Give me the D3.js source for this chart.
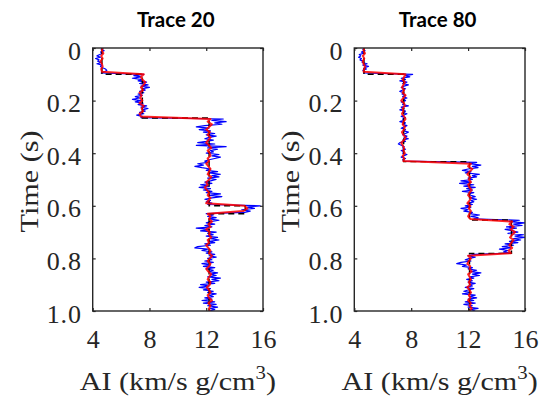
<!DOCTYPE html>
<html>
<head>
<meta charset="utf-8">
<script src="https://cdn.jsdelivr.net/npm/d3@7"></script>
<style>
  body { margin: 0; background: #fff; }
  svg { display: block; }
</style>
</head>
<body>
<div id="chart"></div>
<script>
// sampling of the logs (s)
const blueDt = 0.005;
const redDt = 0.01;

const timeTicks = [0, 0.2, 0.4, 0.6, 0.8, 1.0];
const timeTickLabels = ['0', '0.2', '0.4', '0.6', '0.8', '1.0'];
const aiTicks = [4, 8, 12, 16];
const titles = ['Trace 20', 'Trace 80'];

// Trace 20 - true AI log (blue), t = 0 .. 1.0 every 0.005 s
const trace20Blue = [
  4.75, 4.6, 4.8, 4.55, 4.7, 4.5, 4.3, 4.55, 4.2, 4.45, 4.35, 4.6, 4.3, 4.65, 4.55, 4.7, 4.9, 5.0, 4.85, 4.6,
  7.6, 6.9, 7.4, 6.8, 7.5, 7.2, 7.8, 7.3, 7.9, 7.4, 8.0, 7.5, 7.7, 7.3, 7.6, 7.2, 7.5, 7.0, 7.3, 6.8,
  7.4, 7.0, 7.55, 7.2, 7.8, 7.4, 7.9, 7.5, 7.7, 7.3, 7.6, 7.1, 7.5, 7.4,
  13.2, 12.4, 13.4, 12.6, 13.1, 11.9, 11.3, 12.2, 11.5, 12.3, 11.8, 12.6, 12.0, 12.7, 12.2, 11.9, 12.5, 12.0, 11.4, 12.6,
  11.3, 13.4, 12.1, 12.8, 12.3, 12.5, 12.0, 12.9, 12.4, 13.0, 12.6, 12.2, 11.9, 12.1, 11.4, 11.8, 11.2, 11.7, 12.3, 12.0,
  12.8, 12.2, 13.0, 12.4, 12.9, 12.1, 12.7, 12.3, 11.9, 12.4, 11.6, 12.2, 11.5, 12.3, 11.8, 12.4, 12.0, 13.0, 12.2, 13.1,
  12.4, 11.9, 12.3, 12.0, 12.4, 12.1,
  15.8, 14.9, 15.4, 14.5, 15.1, 14.7,
  12.0, 12.5, 12.1, 12.7, 12.2, 12.9, 12.3, 12.0, 12.6, 11.9, 12.4, 11.3, 12.2, 11.6, 12.7, 12.1, 12.5, 12.0, 12.8, 12.3,
  12.9, 12.2, 12.6, 11.9, 12.3, 11.4, 11.2, 12.1, 11.7, 12.4, 12.0, 12.6, 12.2, 12.7, 12.1, 12.4, 11.9, 12.5, 11.7, 12.3,
  11.8, 12.6, 12.0, 12.5, 12.2, 12.8, 12.3, 12.7, 12.1, 13.0, 12.4, 12.9, 12.0, 12.6, 11.6, 12.2, 11.5, 12.3, 11.8, 12.5,
  12.1, 12.7, 12.2, 12.5, 11.9, 12.4, 11.7, 12.6, 11.8, 12.7, 12.1, 12.8, 12.3, 12.6, 12.2
];

// Trace 20 - inverted AI (red), every 0.01 s
const trace20Red = [
  4.7, 4.65, 4.75, 4.6, 4.7, 4.55, 4.65, 4.7, 4.6, 4.65,
  7.6, 7.4, 7.5, 7.7, 7.6, 7.4, 7.55, 7.3, 7.45, 7.35, 7.5, 7.3, 7.6, 7.45, 7.55, 7.3, 7.4,
  12.3, 12.1, 12.4, 12.2, 12.0, 12.25, 12.1, 12.3, 12.15, 12.0, 12.2, 12.35, 12.1, 12.25, 12.3, 12.1, 12.2,
  12.0, 12.15, 12.3, 12.2, 12.1, 12.35, 12.2, 12.0, 12.1, 11.9, 12.05, 12.2, 12.1, 12.3, 12.15, 12.0,
  14.7, 14.9, 14.6,
  12.1, 12.3, 12.2, 12.4, 12.15, 12.3, 12.0, 12.25, 12.2, 12.35, 12.1, 12.2, 12.0, 12.15, 12.3, 12.2, 12.4, 12.25, 12.1,
  12.3, 12.2, 12.0, 12.15, 12.35, 12.2, 12.1, 12.3, 12.25, 12.05, 12.2, 12.3, 12.1, 12.2, 12.4, 12.15, 12.3, 12.2, 12.25
];

// Trace 20 - blocky model (black dashed): layer tops (s) and AI
const trace20ModelTops = [0, 0.1, 0.266, 0.6, 0.63];
const trace20ModelAI = [4.65, 7.5, 12.2, 14.75, 12.2];

// Trace 80 - true AI log (blue), every 0.005 s
const trace80Blue = [
  4.7, 4.6, 4.75, 4.5, 4.65, 4.35, 4.45, 4.3, 4.5, 4.4, 4.6, 4.55, 4.9, 4.6, 5.0, 4.7, 4.85, 4.6, 4.75, 4.65,
  8.1, 7.6, 7.9, 7.3, 7.6, 7.2, 7.7, 7.4, 7.8, 7.5, 7.3, 7.6, 7.4, 7.2, 7.5, 7.35, 7.6, 7.4, 7.7, 7.45,
  7.6, 7.3, 7.5, 7.4, 7.8, 7.3, 7.5, 7.2, 7.6, 7.4, 7.7, 7.5, 7.3, 7.6, 7.4, 7.5, 7.2, 7.6, 7.4, 7.7,
  7.5, 7.3, 7.6, 7.5, 7.8, 7.6, 7.4, 7.7, 7.5, 7.8, 7.4, 7.6, 7.2, 7.1, 7.3, 7.5, 7.4, 7.6, 7.3, 7.5,
  7.4, 7.7, 7.5, 7.3, 7.6, 7.4, 7.5,
  12.6, 12.1, 12.9, 12.3, 12.7, 12.0, 11.6, 12.2, 11.8, 12.8, 12.3, 12.6, 12.0, 12.3, 11.5, 12.2, 11.4, 12.4, 11.7, 12.5,
  11.9, 12.3, 11.6, 12.4, 12.0, 12.2, 12.5, 12.1, 12.6, 12.2, 12.4, 12.0, 12.3, 11.8, 12.2, 11.5, 12.0, 11.7, 12.3, 12.1,
  12.8, 12.2, 12.7, 12.4,
  15.6, 14.9, 16.0, 15.2, 15.8, 14.7, 15.4, 14.6, 15.1, 15.5, 14.8, 15.9, 15.3, 16.0, 15.2, 15.7, 14.9, 15.5, 14.6, 15.2,
  14.4, 15.0, 14.2, 14.8, 14.5, 15.0,
  12.4, 12.0, 12.5, 12.1, 11.8, 12.2, 11.5, 11.2, 11.9, 11.6, 12.3, 12.0, 12.6, 12.2, 12.9, 12.3, 12.8, 12.1, 12.4, 11.9,
  12.3, 12.0, 12.5, 12.1, 12.3, 11.8, 12.4, 12.0, 11.7, 12.2, 11.6, 12.5, 12.1, 12.6, 12.0, 12.4, 11.8, 12.5, 11.7, 12.3,
  12.0, 12.7, 12.2, 12.5
];

// Trace 80 - inverted AI (red), every 0.01 s
const trace80Red = [
  4.7, 4.65, 4.75, 4.6, 4.7, 4.6, 4.65, 4.75, 4.7, 4.65,
  7.6, 7.5, 7.4, 7.55, 7.45, 7.35, 7.5, 7.4, 7.6, 7.45, 7.3, 7.5, 7.55, 7.4, 7.45, 7.35, 7.5,
  7.6, 7.45, 7.4, 7.55, 7.5, 7.35, 7.45, 7.6, 7.5, 7.3, 7.4, 7.5, 7.45, 7.55, 7.4, 7.5, 7.45,
  12.2, 12.0, 12.3, 12.1, 11.95, 12.15, 12.05, 12.2, 12.0, 12.1, 12.25, 12.1, 12.0, 12.2, 12.1, 11.95,
  12.15, 12.05, 12.2, 12.1, 12.0, 12.15,
  15.1, 14.9, 15.2, 15.0, 15.3, 15.1, 14.95, 15.2, 15.05, 14.9, 15.1, 14.85, 15.0,
  12.0, 12.2, 12.05, 11.95, 12.15, 12.1, 12.25, 12.0, 12.1, 12.2, 12.05, 12.15, 11.95, 12.1, 12.2, 12.05,
  12.15, 12.0, 12.2, 12.1, 12.25, 12.1
];

const trace80ModelTops = [0, 0.1, 0.432, 0.654, 0.781];
const trace80ModelAI = [4.68, 7.47, 12.1, 15.05, 12.1];

const width = 541;
const height = 398;
const plotTop = 48;
const plotBottom = 311;

const panels = [
  { title: titles[0], left: 92.7, right: 263, blue: trace20Blue, red: trace20Red, tops: trace20ModelTops, ai: trace20ModelAI },
  { title: titles[1], left: 354.3, right: 525, blue: trace80Blue, red: trace80Red, tops: trace80ModelTops, ai: trace80ModelAI },
];

const svg = d3
  .select('#chart')
  .append('svg')
  .attr('width', width)
  .attr('height', height);

const serif = '"Liberation Serif", "Times New Roman", serif';

function toPoints(values, dt) {
  return values.map((v, i) => [v, i * dt]);
}

function modelPoints(tops, ai) {
  const pts = [];
  tops.forEach((t, i) => {
    const bottom = i < tops.length - 1 ? tops[i + 1] : 1.0;
    pts.push([ai[i], t]);
    pts.push([ai[i], bottom]);
  });
  return pts;
}

panels.forEach((p, k) => {
  const x = d3.scaleLinear().domain([4, 16]).range([p.left, p.right]);
  const y = d3.scaleLinear().domain([0, 1]).range([plotTop, plotBottom]);
  const line = d3
    .line()
    .x((d) => x(d[0]))
    .y((d) => y(d[1]));

  const g = svg.append('g');

  const clipId = 'clip' + k;
  g.append('clipPath')
    .attr('id', clipId)
    .append('rect')
    .attr('x', p.left)
    .attr('y', plotTop)
    .attr('width', p.right - p.left)
    .attr('height', plotBottom - plotTop);

  const lines = g.append('g').attr('clip-path', `url(#${clipId})`);

  lines
    .append('path')
    .attr('d', line(toPoints(p.blue, blueDt)))
    .attr('fill', 'none')
    .attr('stroke', '#0000ff')
    .attr('stroke-width', 1.2)
    .attr('stroke-linejoin', 'round');

  lines
    .append('path')
    .attr('d', line(modelPoints(p.tops, p.ai)))
    .attr('fill', 'none')
    .attr('stroke', '#000')
    .attr('stroke-width', 1.4)
    .attr('stroke-dasharray', '6,4');

  lines
    .append('path')
    .attr('d', line(toPoints(p.red, redDt)))
    .attr('fill', 'none')
    .attr('stroke', '#ff0000')
    .attr('stroke-opacity', 0.85)
    .attr('stroke-width', 2)
    .attr('stroke-linejoin', 'round');

  // axes, ticks pointing inward on all four sides
  const bottomAxis = g
    .append('g')
    .attr('transform', `translate(0,${plotBottom})`)
    .call(d3.axisBottom(x).tickValues(aiTicks).tickSize(-3).tickPadding(19).tickFormat(d3.format('d')));
  const leftAxis = g
    .append('g')
    .attr('transform', `translate(${p.left},0)`)
    .call(
      d3.axisLeft(y)
        .tickValues(timeTicks)
        .tickSize(-3)
        .tickPadding(11)
        .tickFormat((d, i) => timeTickLabels[i])
    );
  const topAxis = g
    .append('g')
    .attr('transform', `translate(0,${plotTop})`)
    .call(d3.axisTop(x).tickValues(aiTicks).tickSize(-3).tickFormat(''));
  const rightAxis = g
    .append('g')
    .attr('transform', `translate(${p.right},0)`)
    .call(d3.axisRight(y).tickValues(timeTicks).tickSize(-3).tickFormat(''));

  [bottomAxis, leftAxis, topAxis, rightAxis].forEach((a) => {
    a.select('.domain').remove();
    a.selectAll('line').attr('stroke', '#262626').attr('stroke-width', 1.2);
    a.selectAll('text')
      .attr('fill', '#262626')
      .style('font-family', serif)
      .style('font-size', '26px');
  });
  leftAxis.selectAll('text').attr('dy', '0.43em').style('letter-spacing', '0.8px');

  g.append('rect')
    .attr('x', p.left)
    .attr('y', plotTop)
    .attr('width', p.right - p.left)
    .attr('height', plotBottom - plotTop)
    .attr('fill', 'none')
    .attr('stroke', '#262626')
    .attr('stroke-width', 1.4);

  const cx = (p.left + p.right) / 2;

  g.append('text')
    .attr('x', cx - 2)
    .attr('y', 27)
    .attr('text-anchor', 'middle')
    .style('font-family', 'Lato, "Open Sans", sans-serif')
    .style('font-weight', 'bold')
    .style('font-size', '20.5px')
    .attr('fill', '#000')
    .text(p.title);

  // the reference labels are set in a wider serif, so stretch them a bit
  const xLabel = g
    .append('text')
    .attr('transform', `translate(${cx},390) scale(1.16,1)`)
    .attr('text-anchor', 'middle')
    .style('font-family', serif)
    .style('font-size', '26px')
    .attr('fill', '#262626');
  xLabel.append('tspan').text('AI (km/s g/cm');
  xLabel.append('tspan').attr('dy', -11).style('font-size', '18px').text('3');
  xLabel.append('tspan').attr('dy', 11).text(')');

  g.append('text')
    .attr('transform', `translate(${p.left - 64},${(plotTop + plotBottom) / 2 + 2}) rotate(-90) scale(1.16,1)`)
    .attr('text-anchor', 'middle')
    .attr('dy', '0.35em')
    .style('font-family', serif)
    .style('font-size', '26px')
    .attr('fill', '#262626')
    .text('Time (s)');
});
</script>
</body>
</html>
